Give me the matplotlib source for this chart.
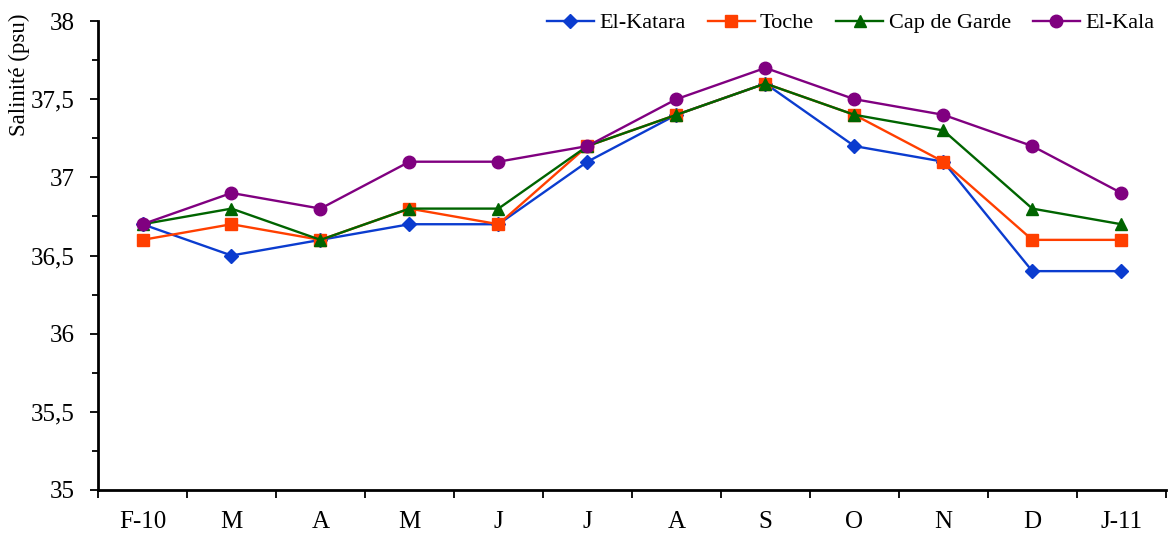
import numpy as np
import matplotlib.pyplot as plt
from matplotlib.ticker import MultipleLocator, FixedLocator, NullFormatter, FuncFormatter

plt.rcParams['font.family'] = ['Liberation Serif', 'DejaVu Serif']

months = ['F-10', 'M', 'A', 'M', 'J', 'J', 'A', 'S', 'O', 'N', 'D', 'J-11']

el_katara = [36.7, 36.5, 36.6, 36.7, 36.7, 37.1, 37.4, 37.6, 37.2, 37.1, 36.4, 36.4]
toche = [36.6, 36.7, 36.6, 36.8, 36.7, 37.2, 37.4, 37.6, 37.4, 37.1, 36.6, 36.6]
cap_de_garde = [36.7, 36.8, 36.6, 36.8, 36.8, 37.2, 37.4, 37.6, 37.4, 37.3, 36.8, 36.7]
el_kala = [36.7, 36.9, 36.8, 37.1, 37.1, 37.2, 37.5, 37.7, 37.5, 37.4, 37.2, 36.9]

x = np.arange(len(months))

fig = plt.figure(figsize=(11.74, 5.4), dpi=100)
ax = fig.add_axes([0.0835, 0.0926, 0.9095, 0.8685])

ax.plot(x, el_katara, color='#0b3ccf', marker='D', markersize=7, lw=1.7, label='El-Katara')
ax.plot(x, toche, color='#ff3f00', marker='s', markersize=8, lw=1.7, label='Toche')
ax.plot(x, cap_de_garde, color='#006400', marker='^', markersize=9, lw=1.7, label='Cap de Garde')
ax.plot(x, el_kala, color='#800080', marker='o', markersize=9, lw=1.7, label='El-Kala')

ax.set_xlim(-0.5, len(months) - 0.5)
ax.set_ylim(35, 38)

# category ticks sit between months, labels centred under each month
ax.xaxis.set_major_locator(FixedLocator(np.arange(len(months) + 1) - 0.5))
ax.xaxis.set_major_formatter(NullFormatter())
ax.xaxis.set_minor_locator(FixedLocator(x))
ax.set_xticklabels(months, minor=True)
ax.tick_params(axis='x', which='major', direction='out', length=6, width=1.3)
ax.tick_params(axis='x', which='minor', length=0, pad=15, labelsize=18)

ax.yaxis.set_major_locator(MultipleLocator(0.5))
ax.yaxis.set_minor_locator(MultipleLocator(0.25))
ax.yaxis.set_major_formatter(FuncFormatter(lambda v, p: ('%g' % v).replace('.', ',')))
ax.tick_params(axis='y', which='major', direction='out', length=6, width=1.3, labelsize=18, pad=11)
ax.tick_params(axis='y', which='minor', direction='out', length=4, width=1.3)

ax.spines['top'].set_visible(False)
ax.spines['right'].set_visible(False)
ax.spines['left'].set_linewidth(2)
ax.spines['bottom'].set_linewidth(2)

ax.set_ylabel('Salinité (psu)', fontsize=16.5)
ax.yaxis.set_label_coords(-0.064, 0.885)

ax.legend(loc='upper right', bbox_to_anchor=(1.008, 1.06), ncol=4, frameon=False,
          fontsize=16, handlelength=2.1, handletextpad=0.25, columnspacing=1.0)

fig.savefig('out.png', dpi=100)
